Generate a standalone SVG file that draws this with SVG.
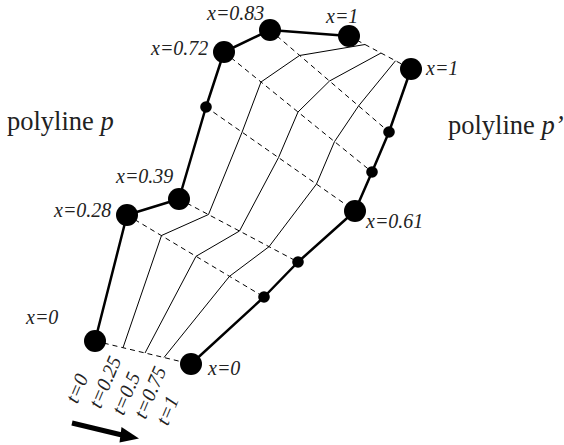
<svg xmlns="http://www.w3.org/2000/svg" width="564" height="445" viewBox="0 0 564 445">
<style>
.thick{fill:none;stroke:#000;stroke-width:2.5;stroke-linejoin:round}
.thin{fill:none;stroke:#000;stroke-width:1}
.dash{fill:none;stroke:#000;stroke-width:1;stroke-dasharray:5,4}
.big{fill:#000}
.lbl{font-family:"Liberation Serif","Times New Roman",serif;font-style:italic;font-size:20px;fill:#222}
.title{font-family:"Liberation Serif","Times New Roman",serif;font-size:26.5px;fill:#222}
</style>
<rect width="564" height="445" fill="#fff"/>
<g id="connectors">
  <g id="dashed">
    <line class="dash" x1="95" y1="341" x2="191" y2="364"/>
    <line class="dash" x1="127" y1="215" x2="264" y2="297"/>
    <line class="dash" x1="179" y1="199" x2="298" y2="262"/>
    <line class="dash" x1="206" y1="107" x2="355" y2="211"/>
    <line class="dash" x1="224" y1="52" x2="372" y2="172"/>
    <line class="dash" x1="270" y1="30" x2="389" y2="132"/>
    <line class="dash" x1="349" y1="36" x2="411" y2="69"/>
  </g>
  <polyline id="t025" class="thin" points="123,347.7 161.5,235.5 208.5,214.5 242,132.3 261,82 299.5,55.5 365,44.5"/>
  <polyline id="t05" class="thin" points="145,353 196,256.3 239.5,231 278.5,157.6 298,112 329.5,81 381,53"/>
  <polyline id="t075" class="thin" points="164,357.5 229.5,276.3 269,246.7 316.5,184 334.5,141.6 358.5,106 395.5,60.75"/>
  <polyline id="p" class="thick" points="95,341 127,215 179,199 206,107 224,52 270,30 349,36"/>
  <polyline id="p2" class="thick" points="191,364 264,297 298,262 355,211 372,172 389,132 411,69"/>
</g>
<g id="node-p-x0"><circle class="big" cx="95" cy="341" r="11"/><text class="lbl" x="26" y="324">x=0</text></g>
<g id="node-p-x028"><circle class="big" cx="127" cy="215" r="11"/><text class="lbl" x="54" y="217">x=0.28</text></g>
<g id="node-p-x039"><circle class="big" cx="179" cy="199" r="11"/><text class="lbl" x="116" y="183">x=0.39</text></g>
<g id="node-p-mid"><circle class="big" cx="206" cy="107" r="5.8"/></g>
<g id="node-p-x072"><circle class="big" cx="224" cy="52" r="11"/><text class="lbl" x="151" y="55">x=0.72</text></g>
<g id="node-p-x083"><circle class="big" cx="270" cy="30" r="11"/><text class="lbl" x="207" y="20">x=0.83</text></g>
<g id="node-p-x1"><circle class="big" cx="349" cy="36" r="11"/><text class="lbl" x="326" y="23">x=1</text></g>
<g id="node-q-x0"><circle class="big" cx="191" cy="364" r="11"/><text class="lbl" x="208" y="375">x=0</text></g>
<g id="node-q-a"><circle class="big" cx="264" cy="297" r="5.8"/></g>
<g id="node-q-b"><circle class="big" cx="298" cy="262" r="5.8"/></g>
<g id="node-q-x061"><circle class="big" cx="355" cy="211" r="11"/><text class="lbl" x="366" y="228">x=0.61</text></g>
<g id="node-q-c"><circle class="big" cx="372" cy="172" r="5.8"/></g>
<g id="node-q-d"><circle class="big" cx="389" cy="132" r="5.8"/></g>
<g id="node-q-x1"><circle class="big" cx="411" cy="69" r="11"/><text class="lbl" x="426" y="75">x=1</text></g>
<g id="label-p"><text class="title" x="7" y="130">polyline <tspan font-style="italic">p</tspan></text></g>
<g id="label-p2"><text class="title" x="448" y="134">polyline <tspan font-style="italic">p’</tspan></text></g>
<g id="t-labels" class="lbl" text-anchor="middle">
  <text transform="translate(83,391) rotate(-67)">t=0</text>
  <text transform="translate(111,384.6) rotate(-67)">t=0.25</text>
  <text transform="translate(132,396) rotate(-67)">t=0.5</text>
  <text transform="translate(156,395) rotate(-67)">t=0.75</text>
  <text transform="translate(173.4,413) rotate(-67)">t=1</text>
</g>
<g id="direction-arrow">
  <line x1="72" y1="423" x2="124" y2="435.5" stroke="#000" stroke-width="5"/>
  <polygon points="139,438.5 121.5,427 119.5,442.5" fill="#000"/>
</g>
</svg>
